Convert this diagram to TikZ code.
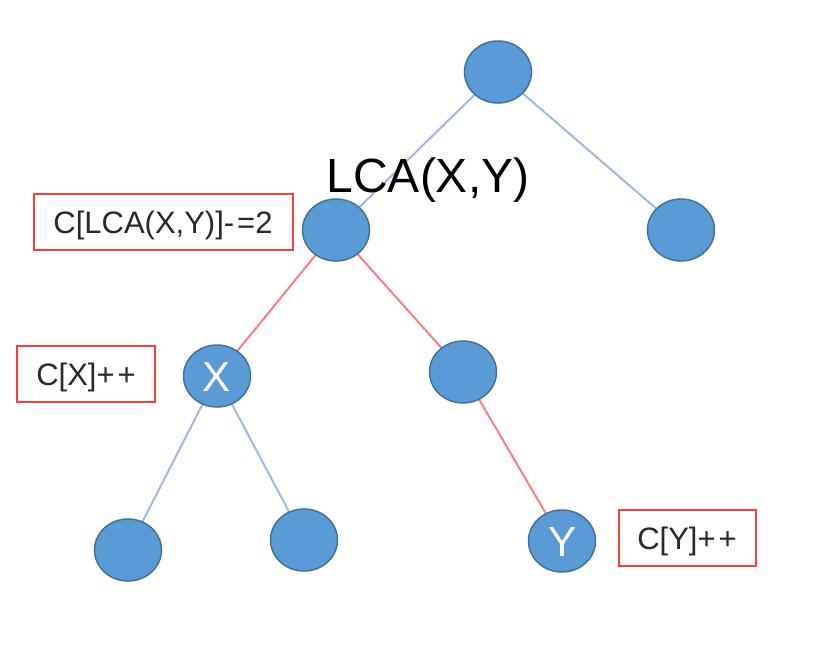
\documentclass[tikz,border=0pt]{standalone}
\usepackage{fontspec}
\setmainfont{Liberation Sans}
\usetikzlibrary{shapes.geometric, positioning, backgrounds}
\definecolor{nodefill}{RGB}{91, 155, 213}
\definecolor{nodeline}{RGB}{65, 113, 156}
\definecolor{blueedge}{RGB}{160, 185, 228}
\definecolor{rededge}{RGB}{255, 124, 128}
\definecolor{boxred}{RGB}{255, 60, 60}
\definecolor{textgray}{RGB}{40, 40, 40}

\begin{document}
\begin{tikzpicture}[
    x=1pt, y=-1pt,
    vertex/.style={ellipse, draw=nodeline, fill=nodefill, line width=1.5pt, minimum width=67pt, minimum height=62pt, inner sep=0pt, text=white, font=\fontsize{42}{42}\selectfont, text height=30pt, text depth=0pt},
    tag/.style={rectangle, draw=boxred, line width=2pt, minimum height=56pt, inner sep=0pt, text=textgray, font=\fontsize{31}{31}\selectfont, text height=23pt, text depth=0pt},
    treeedge/.style={line width=2pt},
    title/.style={font=\fontsize{48}{48}\selectfont}
]
\useasboundingbox (0, 0) rectangle (840, 648);

% Tree nodes
\node[vertex] (root) at (498, 72) {};
\node[vertex] (lca) at (336, 230) {};
\node[vertex] (right) at (681, 230) {};
\node[vertex] (x) at (217, 376) {X};
\node[vertex] (mid) at (463, 372) {};
\node[vertex] (leafa) at (128, 550) {};
\node[vertex] (leafb) at (304, 540) {};
\node[vertex] (y) at (562, 541) {Y};

% Labels
\node[title, anchor=base] (lcatext) at (428, 192) {LCA(X,Y)};
\node[tag, minimum width=259pt] (boxlca) at (163, 222) {C[LCA(X,Y)]-\kern3pt=2};
\node[tag, minimum width=138pt] (boxx) at (86, 374) {C[X]+\kern3pt+};
\node[tag, minimum width=137pt] (boxy) at (687, 538) {C[Y]+\kern3pt+};

% Edges
\begin{scope}[on background layer]
\draw[treeedge, blueedge] (root.center) -- (lca.center);
\draw[treeedge, blueedge] (root.center) -- (right.center);
\draw[treeedge, rededge] (lca.center) -- (x.center);
\draw[treeedge, rededge] (lca.center) -- (mid.center);
\draw[treeedge, blueedge] (x.center) -- (leafa.center);
\draw[treeedge, blueedge] (x.center) -- (leafb.center);
\draw[treeedge, rededge] (mid.center) -- (y.center);
\end{scope}

\end{tikzpicture}
\end{document}
